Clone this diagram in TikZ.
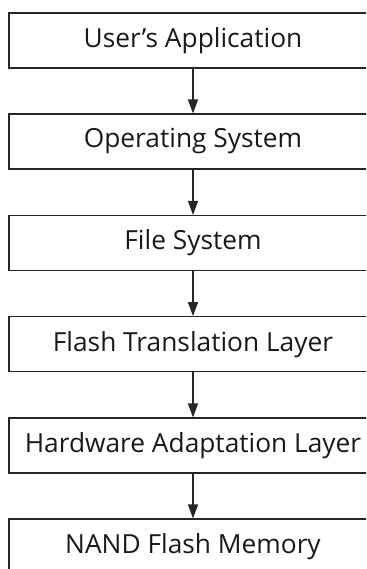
\documentclass[tikz,border=0pt]{standalone}
\usepackage{fontspec}
\setmainfont{Open Sans}
\usetikzlibrary{arrows.meta}
\begin{document}
\begin{tikzpicture}[x=1pt,y=-1pt,
  layer/.style={draw=black!85, line width=1.1pt, minimum width=368pt, minimum height=55pt, inner sep=0pt, font=\fontsize{26.3}{30}\selectfont, text=black!90},
  link/.style={draw=black!85, line width=1.2pt, -{Triangle[length=14pt,width=10pt]}}]
\useasboundingbox (0,0) rectangle (366,569);
\begin{scope}
\clip (0,0) rectangle (366,569);
\node[layer] (ua)  at (193,40.5)  {User’s Application};
\node[layer] (os)  at (193,141.5) {Operating System};
\node[layer] (fs)  at (193,243)   {File System};
\node[layer] (ftl) at (193,344.2) {Flash Translation Layer};
\node[layer] (hal) at (193,445.5) {Hardware Adaptation Layer};
\node[layer] (nand) at (193,546.5) {NAND Flash Memory};
\end{scope}
\draw[link] (ua) -- (os);
\draw[link] (os) -- (fs);
\draw[link] (fs) -- (ftl);
\draw[link] (ftl) -- (hal);
\draw[link] (hal) -- (nand);
\end{tikzpicture}
\end{document}
